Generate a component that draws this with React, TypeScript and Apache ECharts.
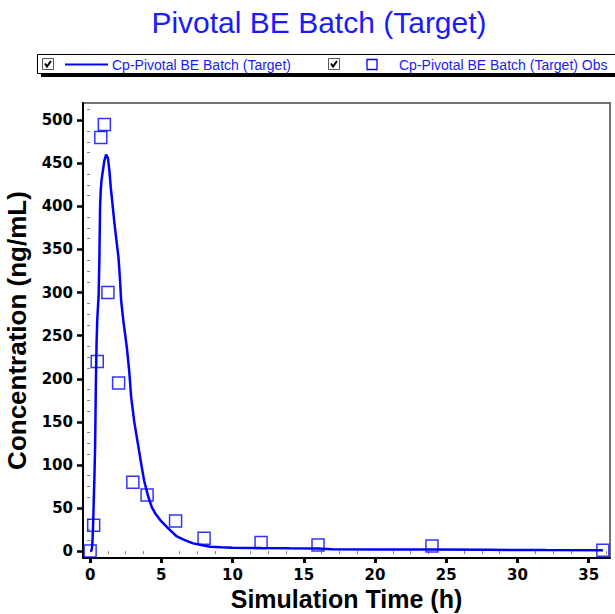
import React, { useEffect, useRef } from "react";
import * as echarts from "echarts";

const chartTitle = "Pivotal BE Batch (Target)";
const simName = "Cp-Pivotal BE Batch (Target)";
const obsName = "Cp-Pivotal BE Batch (Target) Obs";
const xTitle = "Simulation Time (h)";
const yTitle = "Concentration (ng/mL)";

const simTime = [0, 0.05, 0.1, 0.15, 0.2, 0.25, 0.3, 0.35, 0.4, 0.45, 0.5, 0.55, 0.6, 0.65, 0.7, 0.75, 0.8, 0.9, 1.0, 1.12, 1.25, 1.35, 1.45, 1.6, 1.71, 1.85, 1.99, 2.11, 2.18, 2.35, 2.58, 2.75, 2.88, 3.1, 3.39, 3.6, 3.79, 4.05, 4.33, 4.6, 4.92, 5.5, 6.09, 6.6, 7.23, 7.8, 8.43, 9.2, 10, 12, 14, 16, 17, 20, 24, 28, 32, 36];
const simConc = [0, 0, 1, 6, 25, 55, 85, 121, 190, 240, 268, 283, 298, 340, 400, 420, 430, 442, 453, 460, 456, 442, 422, 398, 380, 360, 341, 312, 290, 265, 236, 208, 179, 150, 121, 100, 82, 65, 51, 43, 36, 26, 17, 13, 9, 7, 5, 4.5, 4, 3.5, 3.2, 3, 2.2, 2, 1.8, 1.5, 1.2, 1];

const obsTime = [0, 0.25, 0.5, 0.75, 1, 1.25, 2, 3, 4, 6, 8, 12, 16, 24, 36];
const obsConc = [0, 30, 220, 480, 495, 300, 195, 80, 65, 35, 15, 10, 7, 6, 1];

const xMajorTicks = [0, 5, 10, 15, 20, 25, 30, 35];
const xMinorTicks = [1.25, 2.5, 3.75, 6.25, 7.5, 8.75, 11.25, 12.5, 13.75, 16.25, 17.5, 18.75, 21.25, 22.5, 23.75, 26.25, 27.5, 28.75, 31.25, 32.5, 33.75, 36.25];
const yMajorTicks = [0, 50, 100, 150, 200, 250, 300, 350, 400, 450, 500];
const yMinorTicks = [12.5, 25, 37.5, 62.5, 75, 87.5, 112.5, 125, 137.5, 162.5, 175, 187.5, 212.5, 225, 237.5, 262.5, 275, 287.5, 312.5, 325, 337.5, 362.5, 375, 387.5, 412.5, 425, 437.5, 462.5, 475, 487.5, 512.5];

const BLUE = "#0000ff";
const TEXT_BLUE = "#1a1aff";

function checkbox(x: number, y: number) {
  return [
    { type: "rect", shape: { x, y, width: 11, height: 11 }, style: { fill: "#fff", stroke: "#555", lineWidth: 1 } },
    { type: "polyline", shape: { points: [[x + 2.5, y + 5], [x + 4.5, y + 8], [x + 8.5, y + 2.5]] }, style: { stroke: "#000", lineWidth: 2, fill: "none" } },
  ];
}

export default function App() {
  const ref = useRef<HTMLDivElement>(null);
  useEffect(() => {
    document.body.style.margin = "0";
    const chart = echarts.init(ref.current!, null, { renderer: "svg" });
    const grid = { left: 83, right: 5, top: 103, bottom: 56 };
    chart.setOption({
      animation: false,
      backgroundColor: "#fff",
      grid: { ...grid, show: true, containLabel: false, outerBoundsMode: "none", borderColor: "#444", borderWidth: 1.5, backgroundColor: "transparent" },
      xAxis: [
        {
          type: "value", min: -0.5, max: 36.5,
          name: xTitle, nameLocation: "middle", nameGap: 27,
          nameTextStyle: { fontFamily: "Liberation Sans", fontWeight: "bold", fontSize: 25, color: "#000" },
          axisLine: { show: true, onZero: false, lineStyle: { color: "#000", width: 2 } },
          axisTick: { show: true, customValues: xMajorTicks, length: 5, lineStyle: { color: "#000", width: 3 } },
          axisLabel: { customValues: xMajorTicks, margin: 9, fontFamily: "DejaVu Sans", fontWeight: "bold", fontSize: 15, color: "#000" },
          splitLine: { show: false },
        },
        {
          type: "value", min: -0.5, max: 36.5, position: "bottom",
          axisLine: { show: false },
          axisTick: { show: true, customValues: xMinorTicks, length: 3, lineStyle: { color: "#888", width: 1 } },
          axisLabel: { show: false },
          splitLine: { show: false },
        },
      ],
      yAxis: [
        {
          type: "value", min: -8, max: 520,
          name: yTitle, nameLocation: "middle", nameGap: 53,
          nameTextStyle: { fontFamily: "Liberation Sans", fontWeight: "bold", fontSize: 26, color: "#000" },
          axisLine: { show: true, onZero: false, lineStyle: { color: "#000", width: 2 } },
          axisTick: { show: true, customValues: yMajorTicks, length: 6, lineStyle: { color: "#000", width: 2.5 } },
          axisLabel: { customValues: yMajorTicks, margin: 10, fontFamily: "DejaVu Sans", fontWeight: "bold", fontSize: 15, color: "#000" },
          splitLine: { show: false },
        },
        {
          type: "value", min: -8, max: 520, position: "left",
          axisLine: { show: false },
          axisTick: { show: true, customValues: yMinorTicks, length: 3, lineStyle: { color: "#888", width: 1 } },
          axisLabel: { show: false },
          splitLine: { show: false },
        },
      ],
      series: [
        {
          name: simName, type: "line", xAxisIndex: 0, yAxisIndex: 0,
          data: simTime.map((t, i) => [t, simConc[i]]),
          showSymbol: false, symbol: "none", smooth: false,
          lineStyle: { color: BLUE, width: 2.5 },
        },
        {
          name: obsName, type: "scatter", xAxisIndex: 0, yAxisIndex: 0,
          data: obsTime.map((t, i) => [t, obsConc[i]]),
          symbol: "rect", symbolSize: 12,
          itemStyle: { color: "rgba(0,0,0,0)", borderColor: BLUE, borderWidth: 1.5 },
          z: 3,
        },
      ],
      graphic: [
        { type: "text", x: 319, y: 22, style: { text: chartTitle, fontFamily: "Liberation Sans", fontSize: 30, fill: TEXT_BLUE, align: "center", verticalAlign: "middle" } },
        { type: "rect", shape: { x: 41, y: 72, width: 574, height: 5 }, style: { fill: "#000" } },
        { type: "rect", shape: { x: 37.5, y: 54.5, width: 580, height: 19 }, style: { fill: "#fff", stroke: "#000", lineWidth: 1 } },
        ...checkbox(42.5, 58.5),
        { type: "line", shape: { x1: 65, y1: 64.5, x2: 108, y2: 64.5 }, style: { stroke: BLUE, lineWidth: 2 } },
        { type: "text", x: 112, y: 65, style: { text: simName, fontFamily: "Liberation Sans", fontSize: 14, fill: TEXT_BLUE, verticalAlign: "middle" } },
        ...checkbox(328.5, 58.5),
        { type: "rect", shape: { x: 367, y: 59.5, width: 10, height: 10 }, style: { fill: "none", stroke: BLUE, lineWidth: 1.3 } },
        { type: "text", x: 399, y: 65, style: { text: obsName, fontFamily: "Liberation Sans", fontSize: 14, fill: TEXT_BLUE, verticalAlign: "middle" } },
      ],
    });
    return () => chart.dispose();
  }, []);
  return <div ref={ref} style={{ width: 615, height: 614 }} />;
}
